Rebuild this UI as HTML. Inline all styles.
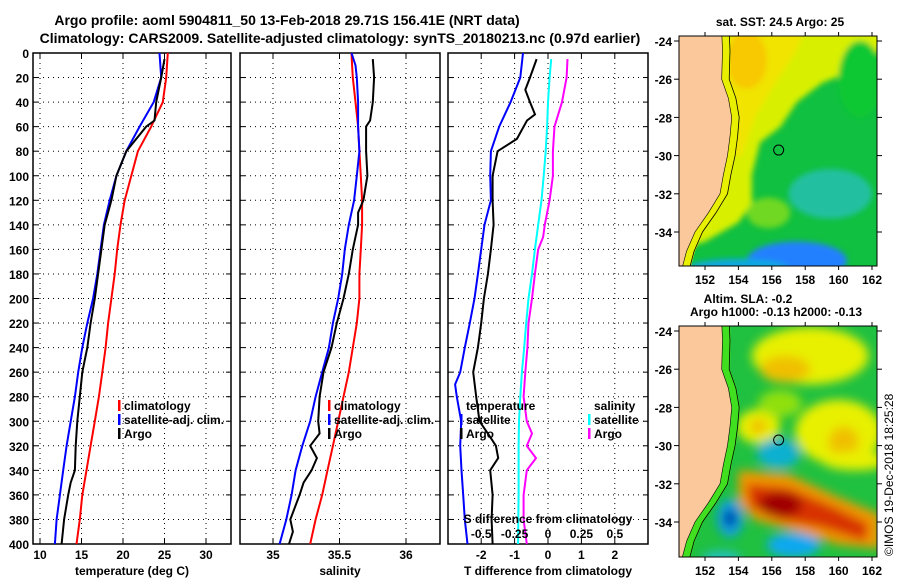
<!DOCTYPE html>
<html><head><meta charset="utf-8">
<style>
body{margin:0;background:#fff;}
svg text{font-family:"Liberation Sans",sans-serif;font-weight:bold;}
</style></head>
<body>
<svg id="chart" width="900" height="580" viewBox="0 0 900 580" xmlns="http://www.w3.org/2000/svg">
<defs>
<filter id="blur1" x="-50%" y="-50%" width="200%" height="200%"><feGaussianBlur stdDeviation="5"/></filter>
<filter id="blur2" x="-50%" y="-50%" width="200%" height="200%"><feGaussianBlur stdDeviation="3"/></filter>
<clipPath id="clipTop"><rect x="679" y="36" width="198" height="230"/></clipPath>
<clipPath id="clipBot"><rect x="679" y="326" width="198" height="231"/></clipPath>
</defs>
<text x="287" y="25" font-size="14" text-anchor="middle">Argo profile: aoml 5904811_50 13-Feb-2018 29.71S 156.41E (NRT data)</text>
<text x="340" y="43" font-size="14" text-anchor="middle">Climatology: CARS2009. Satellite-adjusted climatology: synTS_20180213.nc (0.97d earlier)</text>
<text x="780" y="26" font-size="12" text-anchor="middle">sat. SST: 24.5 Argo: 25</text>
<text x="748" y="303" font-size="12" text-anchor="middle">Altim. SLA: -0.2</text>
<text x="776" y="316" font-size="12" text-anchor="middle">Argo h1000: -0.13 h2000: -0.13</text>
<text transform="translate(893,556) rotate(-90)" font-size="12" style="font-weight:normal">©IMOS 19-Dec-2018 18:25:28</text>
<g id="plots"></g>
<g id="maps"></g>
</svg>
<script>
// ---- profile data (depth in dbar) ----
const tempDepths = [0,20,40,60,80,100,120,140,160,180,200,220,240,260,280,300,320,340,360,380,400];
const tempClim = [25.4,25.2,24.8,23.4,21.8,21.0,20.2,19.7,19.3,19.0,18.6,18.2,17.9,17.5,17.1,16.6,16.1,15.6,15.1,14.8,14.4];
const tempSat = [24.4,24.6,23.7,22.0,20.4,19.2,18.4,17.7,17.3,16.9,16.4,15.7,15.1,14.6,14.2,13.7,13.2,12.8,12.4,12.0,11.8];
const argoTDepths = [5,20,40,55,60,80,100,120,140,160,180,200,220,240,260,280,300,320,340,350,360,380,400];
const argoTemp = [25.0,24.6,24.0,23.8,22.8,20.4,19.2,18.6,17.8,17.4,17.0,16.6,16.1,15.7,15.1,14.8,14.5,14.3,14.2,13.7,13.4,12.9,12.6];
const salDepths = [0,10,20,40,60,80,100,120,140,160,180,200,220,240,260,280,300,320,340,360,380,400];
const salClim = [35.59,35.595,35.60,35.62,35.64,35.65,35.66,35.67,35.67,35.66,35.65,35.65,35.63,35.60,35.57,35.53,35.49,35.45,35.41,35.37,35.32,35.28];
const salSat = [35.59,35.62,35.63,35.64,35.64,35.65,35.63,35.61,35.57,35.54,35.52,35.49,35.45,35.42,35.37,35.32,35.28,35.22,35.17,35.14,35.10,35.05];
const argoSDepths = [5,20,40,55,60,80,100,120,130,140,160,180,200,220,240,260,280,300,310,320,330,340,350,360,380,390,400];
const argoSal = [35.75,35.76,35.75,35.73,35.70,35.70,35.71,35.68,35.64,35.64,35.60,35.57,35.53,35.48,35.44,35.38,35.35,35.34,35.35,35.28,35.33,35.29,35.23,35.20,35.13,35.15,35.12];
const tdSatDepths = [0,20,40,60,80,100,120,140,160,180,200,220,240,260,270,280,300,320,340,360,380,400];
const tdSat = [-0.75,-0.83,-1.12,-1.46,-1.71,-1.73,-1.71,-1.90,-2.0,-2.10,-2.20,-2.34,-2.49,-2.63,-2.78,-2.73,-2.60,-2.63,-2.59,-2.54,-2.49,-2.41];
const tdArgoDepths = [5,20,30,40,50,55,70,80,100,120,140,160,180,200,220,240,260,280,300,310,320,330,340,360,380,400];
const tdArgo = [-0.34,-0.54,-0.68,-0.54,-0.39,-0.63,-0.93,-1.51,-1.66,-1.66,-1.63,-1.71,-1.80,-1.92,-2.00,-2.10,-2.24,-2.15,-2.05,-1.80,-1.56,-1.49,-1.73,-1.66,-1.69,-1.66];
const sdSatDepths = [5,20,40,60,80,100,120,140,160,180,200,220,240,260,280,300,320,340,360,380,400];
const sdSat = [0.024,0.012,0,-0.007,-0.017,-0.032,-0.049,-0.073,-0.098,-0.12,-0.146,-0.163,-0.178,-0.195,-0.207,-0.217,-0.22,-0.22,-0.22,-0.222,-0.224];
const sdArgoDepths = [5,20,40,60,80,100,120,140,150,160,180,200,220,240,260,280,300,310,320,330,340,360,380,400];
const sdArgo = [0.146,0.139,0.105,0.049,0.037,0.037,0.012,-0.024,-0.037,-0.073,-0.098,-0.12,-0.146,-0.154,-0.17,-0.183,-0.159,-0.12,-0.159,-0.09,-0.159,-0.183,-0.183,-0.159];
const depthTicks = [0,20,40,60,80,100,120,140,160,180,200,220,240,260,280,300,320,340,360,380,400];
const tempTicks = [10,15,20,25,30];
const salTicks = [35,35.5,36];
const salTickLabels = ["35","35.5","36"];
const tdTicks = [-2,-1,0,1,2];
const sdTicks = [-0.5,-0.25,0,0.25,0.5];
const sdTickLabels = ["-0.5","-0.25","0","0.25","0.5"];
const latTicks = [-24,-26,-28,-30,-32,-34];
const lonTicks = [152,154,156,158,160,162];

const NS="http://www.w3.org/2000/svg";
function mk(tag,attrs,parent,text){const e=document.createElementNS(NS,tag);for(const k in attrs)e.setAttribute(k,attrs[k]);if(text!==undefined)e.textContent=text;parent.appendChild(e);return e;}
const plots=document.getElementById('plots');
const Y0=53,Y1=544;
function yD(d){return Y0+(d/400)*(Y1-Y0);}

function panel(name,x0,x1,xs,ticks,labels,xlabel,showY){
  const g=mk('g',{},plots);
  
  
  depthTicks.forEach(d=>{
    if(d>0&&d<400){const l=mk('line',{x1:x0,x2:x1,y1:yD(d),y2:yD(d),stroke:'#000','stroke-width':1,'stroke-dasharray':'1,4'},g);
    }
    mk('line',{x1:x0,x2:x0+5,y1:yD(d),y2:yD(d),stroke:'#000'},g);
    mk('line',{x1:x1-5,x2:x1,y1:yD(d),y2:yD(d),stroke:'#000'},g);
    if(showY){const t=mk('text',{x:x0-4,y:yD(d)+5,'font-size':12,'text-anchor':'end'},g,String(d));
    }
  });
  ticks.forEach((v,i)=>{
    const x=xs(v);
    const l=mk('line',{x1:x,x2:x,y1:Y0,y2:Y1,stroke:'#000','stroke-dasharray':'1,4'},g);
    
    mk('line',{x1:x,x2:x,y1:Y1-5,y2:Y1,stroke:'#000'},g);
    mk('line',{x1:x,x2:x,y1:Y0,y2:Y0+5,stroke:'#000'},g);
    const t=mk('text',{x:x,y:Y1+15,'font-size':12,'text-anchor':'middle'},g,labels[i]);
    
  });
  const r=mk('rect',{x:x0,y:Y0,width:x1-x0,height:Y1-Y0,fill:'none',stroke:'#000','stroke-width':1.5},g);
  
  const t=mk('text',{x:(x0+x1)/2,y:575,'font-size':12,'text-anchor':'middle'},g,xlabel);
  
  return g;
}
function line(g,name,depths,vals,xs,color){
  const pts=depths.map((d,i)=>xs(vals[i]).toFixed(1)+','+yD(d).toFixed(1)).join(' ');
  const p=mk('polyline',{points:pts,fill:'none',stroke:color,'stroke-width':2},g);
  
  
}
function legend(g,x,y,items){
  items.forEach((it,i)=>{
    if(it.color) mk('rect',{x:x,y:y+i*14-10,width:2.5,height:11,fill:it.color},g);
    const t=mk('text',{x:x+6,y:y+i*14,'font-size':12},g,it.label);
    
    
  });
}
const xT=v=>40+(v-10)*8.3;
const g1=panel('temperature-panel',33,231,xT,tempTicks,tempTicks.map(String),'temperature (deg C)',true);
line(g1,'temp-climatology-line',tempDepths,tempClim,xT,'#ff0000');
line(g1,'temp-satellite-line',tempDepths,tempSat,xT,'#0000ff');
line(g1,'temp-argo-line',argoTDepths,argoTemp,xT,'#000000');
legend(g1,118,410,[{color:'#f00',label:'climatology'},{color:'#00f',label:'satellite-adj. clim.'},{color:'#000',label:'Argo'}]);
const xS=v=>273+(v-35)*133;
const g2=panel('salinity-panel',240,440,xS,salTicks,salTickLabels,'salinity',false);
line(g2,'sal-climatology-line',salDepths,salClim,xS,'#ff0000');
line(g2,'sal-satellite-line',salDepths,salSat,xS,'#0000ff');
line(g2,'sal-argo-line',argoSDepths,argoSal,xS,'#000000');
legend(g2,328,410,[{color:'#f00',label:'climatology'},{color:'#00f',label:'satellite-adj. clim.'},{color:'#000',label:'Argo'}]);
const xTD=v=>548+v*33.4;
const xSD=v=>548+v*4*33.4;
const g3=panel('difference-panel',448,648,xTD,tdTicks,tdTicks.map(String),'T difference from climatology',false);
line(g3,'sdiff-satellite-line',sdSatDepths,sdSat,xSD,'#00ffff');
line(g3,'sdiff-argo-line',sdArgoDepths,sdArgo,xSD,'#ff00ff');
line(g3,'tdiff-satellite-line',tdSatDepths,tdSat,xTD,'#0000ff');
line(g3,'tdiff-argo-line',tdArgoDepths,tdArgo,xTD,'#000000');
legend(g3,460,410,[{label:'temperature'},{color:'#00f',label:'satellite'},{color:'#000',label:'Argo'}]);
legend(g3,588,410,[{label:'salinity'},{color:'#0ff',label:'satellite'},{color:'#f0f',label:'Argo'}]);
{const t=mk('text',{x:548,y:523,'font-size':12,'text-anchor':'middle'},g3,'S difference from climatology');

sdTicks.forEach((v,i)=>{const tt=mk('text',{x:xSD(v),y:538,'font-size':12,'text-anchor':'middle'},g3,sdTickLabels[i]);
});}

// ---- maps ----
const maps=document.getElementById('maps');
const coastLon=[153.0,153.05,153.0,153.4,153.6,153.5,153.35,153.1,152.9,152.2,151.4,150.9,150.5];
const coastLat=[-23.5,-24.5,-26,-27,-28,-29,-30,-31,-32,-33,-34,-35,-36.3];
function drawMap(name,top,bot,clip,blobs,base,shelf){
  const lx=lon=>705+(lon-152)*16.7;
  const ly=lat=>top.y24+(-24-lat)*19.1;
  const g=mk('g',{},maps);
  
  
  const inner=mk('g',{'clip-path':'url(#'+clip+')'},g);
  mk('rect',{x:679,y:top.y,width:198,height:bot-top.y,fill:base},inner);
  const bg=mk('g',{filter:'url(#'+top.f+')'},inner);
  blobs.forEach(b=>{
    if(b.poly) mk('polygon',{points:b.poly.map(p=>lx(p[0])+','+ly(p[1])).join(' '),fill:b.c},bg);
    else mk('ellipse',{cx:lx(b.lon),cy:ly(b.lat),rx:b.rx*16.7,ry:b.ry*19.1,fill:b.c},bg);
  });
  if(shelf){
    let sp=coastLon.map((v,i)=>lx(v).toFixed(1)+','+ly(coastLat[i]).toFixed(1)).join(' ');
    sp+=' '+coastLon.slice().reverse().map((v,i)=>lx(v+0.5).toFixed(1)+','+ly(coastLat[coastLat.length-1-i]).toFixed(1)).join(' ');
    mk('polygon',{points:sp,fill:shelf},inner);
  }
  let land='650,'+(top.y-5)+' ';
  land+=coastLon.map((v,i)=>lx(v).toFixed(1)+','+ly(coastLat[i]).toFixed(1)).join(' ');
  land+=' 650,'+(bot+5);
  const lp=mk('polygon',{points:land,fill:'#fac89a',stroke:'#000','stroke-width':0.6},inner);
  
  const iso=coastLon.map((v,i)=>lx(v+0.45).toFixed(1)+','+ly(coastLat[i]).toFixed(1)).join(' ');
  mk('polyline',{points:iso,fill:'none',stroke:'#000','stroke-width':0.8},inner);
  const c=mk('circle',{cx:lx(156.41),cy:ly(-29.71),r:5,fill:'none',stroke:'#000','stroke-width':1},inner);
  
  mk('rect',{x:679,y:top.y,width:198,height:bot-top.y,fill:'none',stroke:'#000'},g);
  latTicks.forEach(v=>{const y=ly(v);if(y<top.y-2)return;
    mk('line',{x1:679,x2:674,y1:y,y2:y,stroke:'#000'},g);mk('line',{x1:877,x2:882,y1:y,y2:y,stroke:'#000'},g);
    const t=mk('text',{x:672,y:y+5,'font-size':12,'text-anchor':'end'},g,String(v));
    });
  lonTicks.forEach(v=>{const x=lx(v);
    mk('line',{x1:x,x2:x,y1:bot,y2:bot+4,stroke:'#000'},g);mk('line',{x1:x,x2:x,y1:top.y,y2:top.y-4,stroke:'#000'},g);
    const t=mk('text',{x:x,y:bot+18,'font-size':12,'text-anchor':'middle'},g,String(v));
    });
}
const sstBlobs=[
 {poly:[[150,-22],[163,-22],[162.5,-24.5],[161,-25.5],[159,-26.2],[157.5,-27.2],[156.5,-28.5],[155.3,-29.3],[154.8,-31],[154.8,-32.5],[154,-33.5],[152,-34.5],[150,-35]],c:'#d8f000'},
 {poly:[[150,-22],[158.5,-22],[157.5,-24.5],[156,-26.5],[155,-28],[154.2,-30],[150,-30]],c:'#f0e400'},
 {lon:154.5,lat:-25,rx:1.2,ry:1.5,c:'#f8c800'},
 {lon:161.3,lat:-26,rx:1.3,ry:2,c:'#10c830'},
 {lon:159.5,lat:-32,rx:2.5,ry:1.3,c:'#20c0a0'},
 {lon:157.5,lat:-35.5,rx:3,ry:1.0,c:'#2080ff'},
 {lon:154,lat:-35.9,rx:3,ry:0.5,c:'#10a8e0'},
 {lon:155.8,lat:-33,rx:1.3,ry:0.8,c:'#70d820'}
];
const slaBlobs=[
 {lon:158.3,lat:-25.3,rx:3.5,ry:1.5,c:'#e8f000'},
 {lon:156.8,lat:-26,rx:1.5,ry:0.7,c:'#f0c000'},
 {lon:160,lat:-29.3,rx:2.6,ry:1.7,c:'#e8f000'},
 {lon:160.3,lat:-29.8,rx:0.9,ry:0.8,c:'#f0c000'},
 {lon:155.2,lat:-29,rx:1.3,ry:0.9,c:'#e8f000'},
 {lon:155.2,lat:-29,rx:0.5,ry:0.4,c:'#f0c000'},
 {lon:156.5,lat:-27.8,rx:1.3,ry:0.7,c:'#90e010'},
 {lon:156.4,lat:-30.4,rx:1.3,ry:0.8,c:'#10b0d0'},
 {lon:161,lat:-30.8,rx:2,ry:0.5,c:'#e8f000'},
 {poly:[[154,-31.3],[157,-31.5],[160,-32.7],[162.5,-33.6],[162.5,-35.4],[160,-35.2],[157.5,-34.5],[155,-33.9],[154,-33]],c:'#f09800'},
 {poly:[[154.5,-32],[157,-32.2],[159.7,-33.2],[161.8,-34.1],[161.6,-35],[159,-34.3],[156.5,-33.9],[154.7,-33.2]],c:'#d83000'},
 {lon:156.5,lat:-33.1,rx:1.3,ry:0.65,c:'#a00000'},
 {lon:153.5,lat:-33.8,rx:0.8,ry:1,c:'#10a0e0'},
 {lon:153.5,lat:-33.8,rx:0.35,ry:0.45,c:'#0020a0'},
 {lon:157.3,lat:-35.2,rx:1.6,ry:0.65,c:'#10a8f0'},
 {lon:153,lat:-35.9,rx:1.2,ry:0.4,c:'#20c0c0'}
];
drawMap('sst-map',{y:36,y24:41,f:'blur2'},266,'clipTop',sstBlobs,'#10c040','#e8f000');
drawMap('sla-map',{y:326,y24:331,f:'blur1'},557,'clipBot',slaBlobs,'#20c040','#40e020');
</script>
</body></html>
